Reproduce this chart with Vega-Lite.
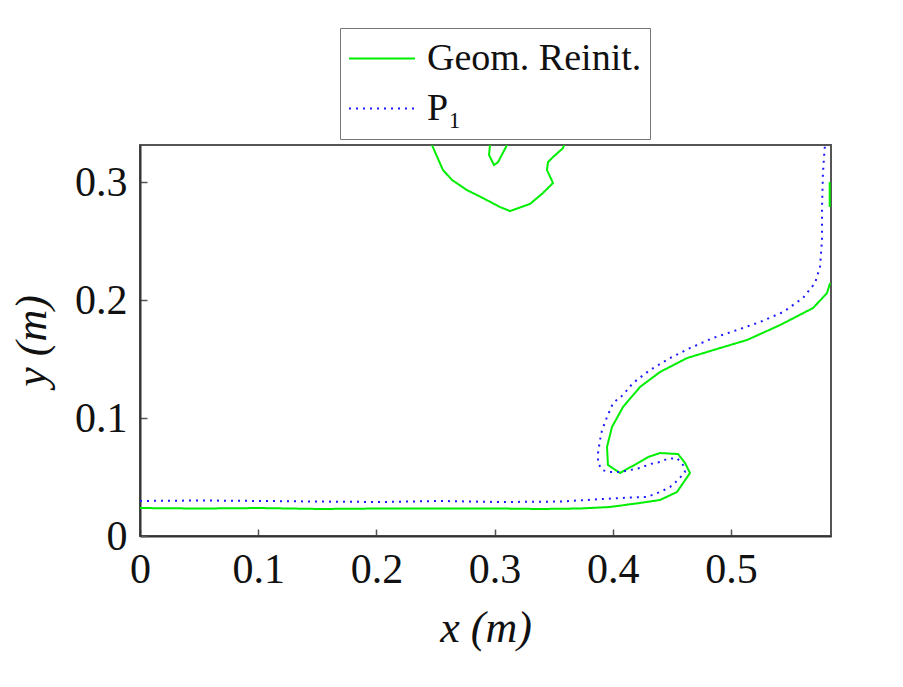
{
  "$schema": "https://vega.github.io/schema/vega-lite/v6.json",
  "width": 691,
  "height": 391,
  "autosize": "none",
  "padding": {"left": 140, "top": 145, "right": 72, "bottom": 151},
  "background": "white",
  "config": {
    "font": "'Liberation Serif', serif",
    "view": {"stroke": "#555555", "strokeWidth": 2},
    "axis": {"grid": false, "labelFont": "'Liberation Serif', serif", "titleFont": "'Liberation Serif', serif", "labelColor": "#111", "titleColor": "#111", "domainColor": "#333", "domainWidth": 2, "tickColor": "#555", "tickWidth": 1.5, "tickSize": -7, "labelFontSize": 42, "titleFontSize": 44, "titleFontWeight": "normal", "titleFontStyle": "italic"}
  },
  "data": {"values": [
    {"s": "Geom. Reinit.", "g": "g1", "i": 1, "x": 0.0, "y": 0.0237},
    {"s": "Geom. Reinit.", "g": "g1", "i": 2, "x": 0.0508, "y": 0.0233},
    {"s": "Geom. Reinit.", "g": "g1", "i": 3, "x": 0.1015, "y": 0.0237},
    {"s": "Geom. Reinit.", "g": "g1", "i": 4, "x": 0.1523, "y": 0.0229},
    {"s": "Geom. Reinit.", "g": "g1", "i": 5, "x": 0.2030, "y": 0.0233},
    {"s": "Geom. Reinit.", "g": "g1", "i": 6, "x": 0.2538, "y": 0.0233},
    {"s": "Geom. Reinit.", "g": "g1", "i": 7, "x": 0.3046, "y": 0.0233},
    {"s": "Geom. Reinit.", "g": "g1", "i": 8, "x": 0.3384, "y": 0.0229},
    {"s": "Geom. Reinit.", "g": "g1", "i": 9, "x": 0.3723, "y": 0.0233},
    {"s": "Geom. Reinit.", "g": "g1", "i": 10, "x": 0.3976, "y": 0.0246},
    {"s": "Geom. Reinit.", "g": "g1", "i": 11, "x": 0.4230, "y": 0.0280},
    {"s": "Geom. Reinit.", "g": "g1", "i": 12, "x": 0.4399, "y": 0.0305},
    {"s": "Geom. Reinit.", "g": "g1", "i": 13, "x": 0.4543, "y": 0.0373},
    {"s": "Geom. Reinit.", "g": "g1", "i": 14, "x": 0.4653, "y": 0.0534},
    {"s": "Geom. Reinit.", "g": "g1", "i": 15, "x": 0.4611, "y": 0.0619},
    {"s": "Geom. Reinit.", "g": "g1", "i": 16, "x": 0.4552, "y": 0.0695},
    {"s": "Geom. Reinit.", "g": "g1", "i": 17, "x": 0.4399, "y": 0.0703},
    {"s": "Geom. Reinit.", "g": "g1", "i": 18, "x": 0.4298, "y": 0.0669},
    {"s": "Geom. Reinit.", "g": "g1", "i": 19, "x": 0.4213, "y": 0.0619},
    {"s": "Geom. Reinit.", "g": "g1", "i": 20, "x": 0.4061, "y": 0.0534},
    {"s": "Geom. Reinit.", "g": "g1", "i": 21, "x": 0.3959, "y": 0.0602},
    {"s": "Geom. Reinit.", "g": "g1", "i": 22, "x": 0.3951, "y": 0.0754},
    {"s": "Geom. Reinit.", "g": "g1", "i": 23, "x": 0.3993, "y": 0.0924},
    {"s": "Geom. Reinit.", "g": "g1", "i": 24, "x": 0.4086, "y": 0.1093},
    {"s": "Geom. Reinit.", "g": "g1", "i": 25, "x": 0.4230, "y": 0.1263},
    {"s": "Geom. Reinit.", "g": "g1", "i": 26, "x": 0.4399, "y": 0.1390},
    {"s": "Geom. Reinit.", "g": "g1", "i": 27, "x": 0.4628, "y": 0.1508},
    {"s": "Geom. Reinit.", "g": "g1", "i": 28, "x": 0.4907, "y": 0.1593},
    {"s": "Geom. Reinit.", "g": "g1", "i": 29, "x": 0.5135, "y": 0.1661},
    {"s": "Geom. Reinit.", "g": "g1", "i": 30, "x": 0.5415, "y": 0.1788},
    {"s": "Geom. Reinit.", "g": "g1", "i": 31, "x": 0.5694, "y": 0.1932},
    {"s": "Geom. Reinit.", "g": "g1", "i": 32, "x": 0.5812, "y": 0.2059},
    {"s": "Geom. Reinit.", "g": "g1", "i": 33, "x": 0.5838, "y": 0.2144},
    {"s": "Geom. Reinit.", "g": "g2", "i": 1, "x": 0.5835, "y": 0.2788},
    {"s": "Geom. Reinit.", "g": "g2", "i": 2, "x": 0.5835, "y": 0.3000},
    {"s": "Geom. Reinit.", "g": "g3", "i": 1, "x": 0.2470, "y": 0.3314},
    {"s": "Geom. Reinit.", "g": "g3", "i": 2, "x": 0.2563, "y": 0.3102},
    {"s": "Geom. Reinit.", "g": "g3", "i": 3, "x": 0.2640, "y": 0.3017},
    {"s": "Geom. Reinit.", "g": "g3", "i": 4, "x": 0.2766, "y": 0.2932},
    {"s": "Geom. Reinit.", "g": "g3", "i": 5, "x": 0.2902, "y": 0.2864},
    {"s": "Geom. Reinit.", "g": "g3", "i": 6, "x": 0.3046, "y": 0.2788},
    {"s": "Geom. Reinit.", "g": "g3", "i": 7, "x": 0.3130, "y": 0.2754},
    {"s": "Geom. Reinit.", "g": "g3", "i": 8, "x": 0.3299, "y": 0.2814},
    {"s": "Geom. Reinit.", "g": "g3", "i": 9, "x": 0.3409, "y": 0.2907},
    {"s": "Geom. Reinit.", "g": "g3", "i": 10, "x": 0.3494, "y": 0.2992},
    {"s": "Geom. Reinit.", "g": "g3", "i": 11, "x": 0.3443, "y": 0.3102},
    {"s": "Geom. Reinit.", "g": "g3", "i": 12, "x": 0.3452, "y": 0.3169},
    {"s": "Geom. Reinit.", "g": "g3", "i": 13, "x": 0.3494, "y": 0.3212},
    {"s": "Geom. Reinit.", "g": "g3", "i": 14, "x": 0.3579, "y": 0.3288},
    {"s": "Geom. Reinit.", "g": "g3", "i": 15, "x": 0.3587, "y": 0.3314},
    {"s": "Geom. Reinit.", "g": "g4", "i": 1, "x": 0.2961, "y": 0.3314},
    {"s": "Geom. Reinit.", "g": "g4", "i": 2, "x": 0.2953, "y": 0.3229},
    {"s": "Geom. Reinit.", "g": "g4", "i": 3, "x": 0.2995, "y": 0.3144},
    {"s": "Geom. Reinit.", "g": "g4", "i": 4, "x": 0.3029, "y": 0.3169},
    {"s": "Geom. Reinit.", "g": "g4", "i": 5, "x": 0.3105, "y": 0.3314},
    {"s": "P₁", "g": "b1", "i": 1, "x": 0.0, "y": 0.0297},
    {"s": "P₁", "g": "b1", "i": 2, "x": 0.0508, "y": 0.0301},
    {"s": "P₁", "g": "b1", "i": 3, "x": 0.1015, "y": 0.0297},
    {"s": "P₁", "g": "b1", "i": 4, "x": 0.1523, "y": 0.0292},
    {"s": "P₁", "g": "b1", "i": 5, "x": 0.2030, "y": 0.0288},
    {"s": "P₁", "g": "b1", "i": 6, "x": 0.2538, "y": 0.0297},
    {"s": "P₁", "g": "b1", "i": 7, "x": 0.3046, "y": 0.0288},
    {"s": "P₁", "g": "b1", "i": 8, "x": 0.3553, "y": 0.0292},
    {"s": "P₁", "g": "b1", "i": 9, "x": 0.4061, "y": 0.0322},
    {"s": "P₁", "g": "b1", "i": 10, "x": 0.4289, "y": 0.0331},
    {"s": "P₁", "g": "b1", "i": 11, "x": 0.4399, "y": 0.0373},
    {"s": "P₁", "g": "b1", "i": 12, "x": 0.4484, "y": 0.0415},
    {"s": "P₁", "g": "b1", "i": 13, "x": 0.4552, "y": 0.0475},
    {"s": "P₁", "g": "b1", "i": 14, "x": 0.4611, "y": 0.0542},
    {"s": "P₁", "g": "b1", "i": 15, "x": 0.4594, "y": 0.0602},
    {"s": "P₁", "g": "b1", "i": 16, "x": 0.4543, "y": 0.0661},
    {"s": "P₁", "g": "b1", "i": 17, "x": 0.4459, "y": 0.0653},
    {"s": "P₁", "g": "b1", "i": 18, "x": 0.4399, "y": 0.0627},
    {"s": "P₁", "g": "b1", "i": 19, "x": 0.4315, "y": 0.0610},
    {"s": "P₁", "g": "b1", "i": 20, "x": 0.4230, "y": 0.0576},
    {"s": "P₁", "g": "b1", "i": 21, "x": 0.4146, "y": 0.0559},
    {"s": "P₁", "g": "b1", "i": 22, "x": 0.4061, "y": 0.0542},
    {"s": "P₁", "g": "b1", "i": 23, "x": 0.3976, "y": 0.0542},
    {"s": "P₁", "g": "b1", "i": 24, "x": 0.3909, "y": 0.0559},
    {"s": "P₁", "g": "b1", "i": 25, "x": 0.3875, "y": 0.0619},
    {"s": "P₁", "g": "b1", "i": 26, "x": 0.3875, "y": 0.0703},
    {"s": "P₁", "g": "b1", "i": 27, "x": 0.3892, "y": 0.0814},
    {"s": "P₁", "g": "b1", "i": 28, "x": 0.3909, "y": 0.0898},
    {"s": "P₁", "g": "b1", "i": 29, "x": 0.3951, "y": 0.1008},
    {"s": "P₁", "g": "b1", "i": 30, "x": 0.4002, "y": 0.1127},
    {"s": "P₁", "g": "b1", "i": 31, "x": 0.4086, "y": 0.1195},
    {"s": "P₁", "g": "b1", "i": 32, "x": 0.4171, "y": 0.1297},
    {"s": "P₁", "g": "b1", "i": 33, "x": 0.4315, "y": 0.1407},
    {"s": "P₁", "g": "b1", "i": 34, "x": 0.4484, "y": 0.1508},
    {"s": "P₁", "g": "b1", "i": 35, "x": 0.4653, "y": 0.1593},
    {"s": "P₁", "g": "b1", "i": 36, "x": 0.4848, "y": 0.1678},
    {"s": "P₁", "g": "b1", "i": 37, "x": 0.5051, "y": 0.1746},
    {"s": "P₁", "g": "b1", "i": 38, "x": 0.5245, "y": 0.1814},
    {"s": "P₁", "g": "b1", "i": 39, "x": 0.5440, "y": 0.1898},
    {"s": "P₁", "g": "b1", "i": 40, "x": 0.5609, "y": 0.2017},
    {"s": "P₁", "g": "b1", "i": 41, "x": 0.5711, "y": 0.2144},
    {"s": "P₁", "g": "b1", "i": 42, "x": 0.5753, "y": 0.2280},
    {"s": "P₁", "g": "b1", "i": 43, "x": 0.5770, "y": 0.2508},
    {"s": "P₁", "g": "b1", "i": 44, "x": 0.5770, "y": 0.2788},
    {"s": "P₁", "g": "b1", "i": 45, "x": 0.5778, "y": 0.3076},
    {"s": "P₁", "g": "b1", "i": 46, "x": 0.5787, "y": 0.3212},
    {"s": "P₁", "g": "b1", "i": 47, "x": 0.5795, "y": 0.3314}
  ]},
  "mark": {"type": "line", "strokeWidth": 2, "clip": true},
  "encoding": {
    "x": {"field": "x", "type": "quantitative", "scale": {"domain": [0, 0.5846], "nice": false, "zero": false},
      "axis": {"title": "x  (m)", "values": [0, 0.1, 0.2, 0.3, 0.4, 0.5], "format": "~g", "labelPadding": 20, "titlePadding": 16, "labelFlush": false}},
    "y": {"field": "y", "type": "quantitative", "scale": {"domain": [0, 0.3314], "nice": false, "zero": false},
      "axis": {"title": "y  (m)", "values": [0, 0.1, 0.2, 0.3], "format": "~g", "labelPadding": 20, "titlePadding": 20, "labelFlush": false}},
    "detail": {"field": "g"},
    "order": {"field": "i", "type": "quantitative"},
    "color": {"field": "s", "type": "nominal", "title": null,
      "scale": {"domain": ["Geom. Reinit.", "P₁"], "range": ["#00ee00", "#1a1aff"]},
      "legend": {"orient": "none", "legendX": 200, "legendY": -117, "direction": "vertical", "fillColor": "white", "strokeColor": "#777", "padding": 8, "labelFontSize": 38, "labelFont": "'Liberation Serif', serif", "labelColor": "#111", "labelLimit": 500, "symbolType": "stroke", "symbolSize": 4356, "symbolStrokeWidth": 2, "clipHeight": 45, "labelOffset": 11, "rowPadding": 5}},
    "strokeDash": {"field": "s", "type": "nominal", "title": null,
      "scale": {"domain": ["Geom. Reinit.", "P₁"], "range": [[1, 0], [2, 5]]}}
  }
}
